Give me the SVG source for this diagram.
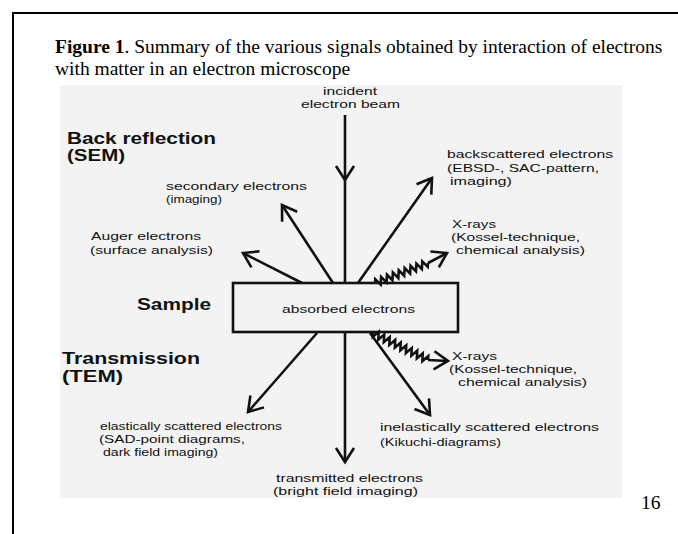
<svg xmlns="http://www.w3.org/2000/svg" width="678" height="534" viewBox="0 0 678 534">
<style>
.t{font-family:"Liberation Sans",Arial,sans-serif;font-size:11.5px;fill:#111}
.b{font-family:"Liberation Sans",Arial,sans-serif;font-size:16px;font-weight:bold;fill:#111}
.ti{font-family:"Liberation Serif","Times New Roman",serif;font-size:19.5px;fill:#000}
.ln{fill:none;stroke:#111;stroke-width:2.6}
.ar{marker-end:url(#v)}
</style>
<defs>
<marker id="v" viewBox="-16 -11 18 22" refX="0" refY="0" markerWidth="18" markerHeight="22" markerUnits="userSpaceOnUse" orient="auto" overflow="visible">
<path d="M-14,-9 L0,0 L-14,9" fill="none" stroke="#111" stroke-width="2.6"/>
</marker>
</defs>
<rect width="678" height="534" fill="#fff"/>
<path d="M13,534 V13 H678" fill="none" stroke="#000" stroke-width="2"/>
<g id="title">
<text class="ti" x="55" y="53"><tspan font-weight="bold">Figure 1</tspan>. Summary of the various signals obtained by interaction of electrons</text>
<text class="ti" x="55" y="75">with matter in an electron microscope</text>
</g>
<rect x="60" y="85" width="562" height="413" fill="#f3f3f3"/>
<g id="connectors">
<path class="ln ar" d="M345,115 V180"/>
<path class="ln" d="M345,180 V283"/>
<path class="ln ar" d="M333,283 L282,205"/>
<path class="ln ar" d="M302,283 L243,253"/>
<path class="ln ar" d="M358,283 L432,178"/>
<g transform="translate(375,283) rotate(-20.7)">
<path class="ln" stroke-width="2" d="M0,0 l1.57,-3.5 l3.15,7 l1.57,-3.5 l1.57,-3.5 l3.15,7 l1.57,-3.5 l1.57,-3.5 l3.15,7 l1.57,-3.5 l1.57,-3.5 l3.15,7 l1.57,-3.5 l1.57,-3.5 l3.15,7 l1.57,-3.5 l1.57,-3.5 l3.15,7 l1.57,-3.5 l1.57,-3.5 l3.15,7 l1.57,-3.5 l1.57,-3.5 l3.15,7 l1.57,-3.5 l1.57,-3.5 l3.15,7 l1.57,-3.5"/>
</g>
<path class="ln ar" d="M428,263 L447,253"/>
<path class="ln ar" d="M345,332 V462"/>
<path class="ln ar" d="M317,333 L248,412"/>
<path class="ln ar" d="M370,333 L430,415"/>
<g transform="translate(373,333) rotate(26.1)">
<path class="ln" stroke-width="2" d="M0,0 l1.53,3.5 l3.07,-7 l1.53,3.5 l1.53,3.5 l3.07,-7 l1.53,3.5 l1.53,3.5 l3.07,-7 l1.53,3.5 l1.53,3.5 l3.07,-7 l1.53,3.5 l1.53,3.5 l3.07,-7 l1.53,3.5 l1.53,3.5 l3.07,-7 l1.53,3.5 l1.53,3.5 l3.07,-7 l1.53,3.5 l1.53,3.5 l3.07,-7 l1.53,3.5 l1.53,3.5 l3.07,-7 l1.53,3.5 l1.53,3.5 l3.07,-7 l1.53,3.5"/>
</g>
<path class="ln ar" d="M428,360 L448,361"/>
</g>
<g id="sample">
<rect x="233" y="283" width="225" height="49" fill="none" stroke="#111" stroke-width="2.6"/>
<text class="t" x="282" y="313" textLength="133" lengthAdjust="spacingAndGlyphs">absorbed electrons</text>
</g>
<g id="incident">
<text class="t" x="323" y="95" textLength="54" lengthAdjust="spacingAndGlyphs">incident</text>
<text class="t" x="301" y="108" textLength="99" lengthAdjust="spacingAndGlyphs">electron beam</text>
</g>
<g id="back-reflection">
<text class="b" x="67" y="144" textLength="149" lengthAdjust="spacingAndGlyphs">Back reflection</text>
<text class="b" x="67" y="161" textLength="58" lengthAdjust="spacingAndGlyphs">(SEM)</text>
</g>
<g id="sample-label">
<text class="b" x="137" y="310" textLength="74" lengthAdjust="spacingAndGlyphs">Sample</text>
</g>
<g id="transmission">
<text class="b" x="62" y="364" textLength="138" lengthAdjust="spacingAndGlyphs">Transmission</text>
<text class="b" x="62" y="382" textLength="61" lengthAdjust="spacingAndGlyphs">(TEM)</text>
</g>
<g id="secondary">
<text class="t" x="166" y="190" textLength="141" lengthAdjust="spacingAndGlyphs">secondary electrons</text>
<text class="t" x="166" y="203" textLength="56" lengthAdjust="spacingAndGlyphs">(imaging)</text>
</g>
<g id="auger">
<text class="t" x="91" y="240" textLength="110" lengthAdjust="spacingAndGlyphs">Auger electrons</text>
<text class="t" x="90" y="254" textLength="123" lengthAdjust="spacingAndGlyphs">(surface analysis)</text>
</g>
<g id="backscattered">
<text class="t" x="447" y="158" textLength="166" lengthAdjust="spacingAndGlyphs">backscattered electrons</text>
<text class="t" x="447" y="171.5" textLength="152" lengthAdjust="spacingAndGlyphs">(EBSD-, SAC-pattern,</text>
<text class="t" x="450" y="185" textLength="62" lengthAdjust="spacingAndGlyphs">imaging)</text>
</g>
<g id="xrays-top">
<text class="t" x="452" y="228" textLength="44" lengthAdjust="spacingAndGlyphs">X-rays</text>
<text class="t" x="451" y="241" textLength="129" lengthAdjust="spacingAndGlyphs">(Kossel-technique,</text>
<text class="t" x="456" y="254" textLength="129" lengthAdjust="spacingAndGlyphs">chemical analysis)</text>
</g>
<g id="xrays-bottom">
<text class="t" x="452" y="360" textLength="45" lengthAdjust="spacingAndGlyphs">X-rays</text>
<text class="t" x="449" y="373" textLength="128" lengthAdjust="spacingAndGlyphs">(Kossel-technique,</text>
<text class="t" x="458" y="386" textLength="129" lengthAdjust="spacingAndGlyphs">chemical analysis)</text>
</g>
<g id="elastic">
<text class="t" x="100" y="430" textLength="182" lengthAdjust="spacingAndGlyphs">elastically scattered electrons</text>
<text class="t" x="99" y="443" textLength="146" lengthAdjust="spacingAndGlyphs">(SAD-point diagrams,</text>
<text class="t" x="103" y="456" textLength="115" lengthAdjust="spacingAndGlyphs">dark field imaging)</text>
</g>
<g id="inelastic">
<text class="t" x="380" y="431" textLength="219" lengthAdjust="spacingAndGlyphs">inelastically scattered electrons</text>
<text class="t" x="380" y="446" textLength="121" lengthAdjust="spacingAndGlyphs">(Kikuchi-diagrams)</text>
</g>
<g id="transmitted">
<text class="t" x="276" y="482" textLength="147" lengthAdjust="spacingAndGlyphs">transmitted electrons</text>
<text class="t" x="273" y="495" textLength="145" lengthAdjust="spacingAndGlyphs">(bright field imaging)</text>
</g>
<g id="page-number">
<text class="ti" x="641" y="509" font-size="14">16</text>
</g>
</svg>
